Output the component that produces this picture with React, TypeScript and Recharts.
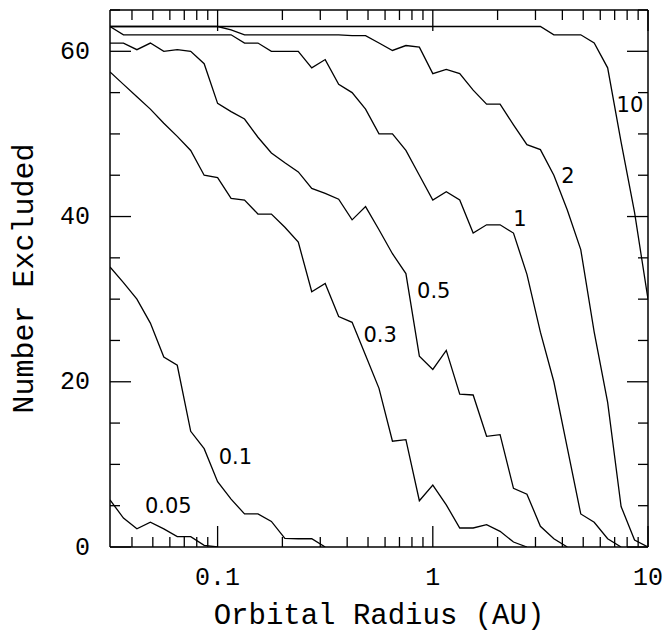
import React from "react";
import { LineChart, Line, XAxis, YAxis, ReferenceDot } from "recharts";

// orbital radii (AU) sampled on the simulation grid
const radius = [
  0.03162, 0.03652, 0.04217, 0.0487, 0.05623, 0.06494, 0.07499, 0.0866, 0.1, 0.1155,
  0.1334, 0.154, 0.1778, 0.2054, 0.2371, 0.2738, 0.3162, 0.3652, 0.4217, 0.487,
  0.5623, 0.6494, 0.7499, 0.866, 1, 1.155, 1.334, 1.54, 1.778, 2.054,
  2.371, 2.738, 3.162, 3.652, 4.217, 4.87, 5.623, 6.494, 7.499, 8.66, 10,
];

// number excluded, one list per curve
const n005 = [5.7, 3.5, 2.2, 3.0, 2.2, 1.25, 1.25, 0.2, 0];
const n01 = [33.9, 32, 30, 27.1, 23, 22, 14, 11.9, 7.9, 5.8, 4, 4, 3.1, 1.05, 1, 1, 0];
const n03 = [
  57.5, 56, 54.5, 53, 51.3, 49.7, 48, 45, 44.7, 42.2, 42, 40.3, 40.3, 38.7, 36.9, 30.9,
  31.9, 27.9, 27.2, 23.2, 19.2, 12.8, 13, 5.6, 7.5, 5.1, 2.3, 2.3, 2.7, 1.9, 0.6, 0,
];
const n05 = [
  61, 61, 60.2, 61, 60, 60.2, 60, 58.5, 53.7, 52.7, 51.8, 49.6, 47.7, 46.5, 45.4, 43.4,
  42.8, 42.1, 39.6, 41.2, 38.4, 35.5, 33.1, 23.1, 21.5, 23.8, 18.5, 18.4, 13.4, 13.6, 7.1,
  6.4, 2.5, 1, 0,
];
const n1 = [
  63, 62, 62, 62, 62, 62, 62, 62, 62, 62, 61, 61, 60, 60, 60, 58, 59, 56, 55, 53, 50,
  50, 48, 45, 42, 43, 42, 38, 39, 39, 38, 33, 26, 20, 12, 4, 3, 1, 0,
];
const n2 = [
  63, 63, 63, 63, 63, 63, 63, 63, 63, 62.6, 62, 62, 62, 62, 62, 62, 62, 62, 61.9, 61.9,
  61, 60.1, 60.7, 60.5, 57.3, 57.8, 57.3, 55.3, 53.6, 53.6, 51.1, 48.7, 48.1, 45, 40.8, 36,
  26, 17.5, 4.9, 0.85, 0,
];
const n10 = [
  63, 63, 63, 63, 63, 63, 63, 63, 63, 63, 63, 63, 63, 63, 63, 63, 63, 63, 63, 63, 63,
  63, 63, 63, 63, 63, 63, 63, 63, 63, 63, 63, 63, 62, 62, 62, 61, 58, 49, 40.5, 30,
];

const curveKeys = ["a005", "a01", "a03", "a05", "a1", "a2", "a10"];
const curveValues = [n005, n01, n03, n05, n1, n2, n10];

// curve annotations
const labelText = ["0.05", "0.1", "0.3", "0.5", "1", "2", "10"];
const labelR = [0.059, 0.121, 0.569, 1.01, 2.54, 4.25, 8.24];
const labelN = [5.0, 10.9, 25.7, 31.0, 39.8, 45.0, 53.5];

const xTicks = [
  0.04, 0.05, 0.06, 0.07, 0.08, 0.09, 0.1, 0.2, 0.3, 0.4, 0.5, 0.6, 0.7, 0.8, 0.9, 1,
  2, 3, 4, 5, 6, 7, 8, 9, 10,
];
const xMajor = [0.1, 1, 10];
const yTicks = [0, 5, 10, 15, 20, 25, 30, 35, 40, 45, 50, 55, 60, 65];
const yMajor = [0, 20, 40, 60];

const data = radius.map((r, i) => {
  const row: Record<string, number | undefined> = { r };
  curveKeys.forEach((k, j) => {
    row[k] = curveValues[j][i];
  });
  return row;
});

const INK = "#000";
const MONO = "'Liberation Mono', monospace";

function FrameTick(props: any) {
  const { x, y, payload, side } = props;
  const v = payload.value;
  const horiz = side === "bottom" || side === "top";
  const major = horiz ? xMajor.includes(v) : yMajor.includes(v);
  const len = major ? 21 : 10;
  let line;
  if (side === "bottom") line = <line x1={x} y1={y} x2={x} y2={y - len} />;
  else if (side === "top") line = <line x1={x} y1={y} x2={x} y2={y + len} />;
  else if (side === "left") line = <line x1={x} y1={y} x2={x + len} y2={y} />;
  else line = <line x1={x} y1={y} x2={x - len} y2={y} />;
  return (
    <g>
      <g stroke={INK} strokeWidth={1.3}>{line}</g>
      {major && side === "bottom" && (
        <text x={x} y={y + 31} textAnchor="middle" dominantBaseline="central"
          fontFamily={MONO} fontSize={25} fill={INK}>
          {String(v)}
        </text>
      )}
      {major && side === "left" && (
        <text x={x - 20} y={y + 1} textAnchor="end" dominantBaseline="central"
          fontFamily={MONO} fontSize={25} fill={INK}>
          {String(v)}
        </text>
      )}
    </g>
  );
}

function XTitle(props: any) {
  const vb = props.viewBox || { x: 110, y: 547, width: 537, height: 87 };
  return (
    <text x={vb.x + vb.width / 2} y={vb.y + 77} textAnchor="middle"
      fontFamily={MONO} fontSize={29} fill={INK}>
      Orbital Radius (AU)
    </text>
  );
}

function YTitle(props: any) {
  const vb = props.viewBox || { x: 0, y: 10, width: 110, height: 537 };
  const cx = vb.x + 33;
  const cy = vb.y + vb.height / 2;
  return (
    <text x={cx} y={cy} transform={`rotate(-90, ${cx}, ${cy})`} textAnchor="middle"
      fontFamily={MONO} fontSize={30} fill={INK}>
      Number Excluded
    </text>
  );
}

export default function App() {
  return (
    <div style={{ position: "absolute", left: 0, top: 0, background: "#fff" }}>
      <LineChart width={668} height={634} data={data}
        margin={{ top: 0, right: 0, bottom: 0, left: 0 }}>
        <XAxis dataKey="r" type="number" scale="log" domain={[0.03162, 10]} allowDataOverflow
          ticks={xTicks} interval={0} height={87} tickSize={0} tickMargin={0} tickLine={false}
          axisLine={{ stroke: INK, strokeWidth: 1.5 }}
          tick={(p: any) => <FrameTick {...p} side="bottom" />}
          label={<XTitle />} />
        <XAxis xAxisId="top" orientation="top" dataKey="r" type="number" scale="log"
          domain={[0.03162, 10]} allowDataOverflow ticks={xTicks} interval={0} height={10}
          tickSize={0} tickMargin={0} tickLine={false}
          axisLine={{ stroke: INK, strokeWidth: 1.5 }}
          tick={(p: any) => <FrameTick {...p} side="top" />} />
        <YAxis type="number" domain={[0, 65]} allowDataOverflow ticks={yTicks} interval={0}
          width={110} tickSize={0} tickMargin={0} tickLine={false}
          axisLine={{ stroke: INK, strokeWidth: 1.5 }}
          tick={(p: any) => <FrameTick {...p} side="left" />}
          label={<YTitle />} />
        <YAxis yAxisId="right" orientation="right" type="number" domain={[0, 65]}
          allowDataOverflow ticks={yTicks} interval={0} width={20} tickSize={0} tickMargin={0}
          tickLine={false} axisLine={{ stroke: INK, strokeWidth: 1.5 }}
          tick={(p: any) => <FrameTick {...p} side="right" />} />
        {curveKeys.map((k) => (
          <Line key={k} dataKey={k} type="linear" stroke={INK} strokeWidth={1.3}
            dot={false} activeDot={false} isAnimationActive={false} />
        ))}
        {labelText.map((t, i) => (
          <ReferenceDot key={t} x={labelR[i]} y={labelN[i]} r={0} fill="none" stroke="none"
            label={{ value: t, position: "center", fill: INK, fontSize: 21,
              fontFamily: "'DejaVu Sans', sans-serif" }} />
        ))}
      </LineChart>
    </div>
  );
}
